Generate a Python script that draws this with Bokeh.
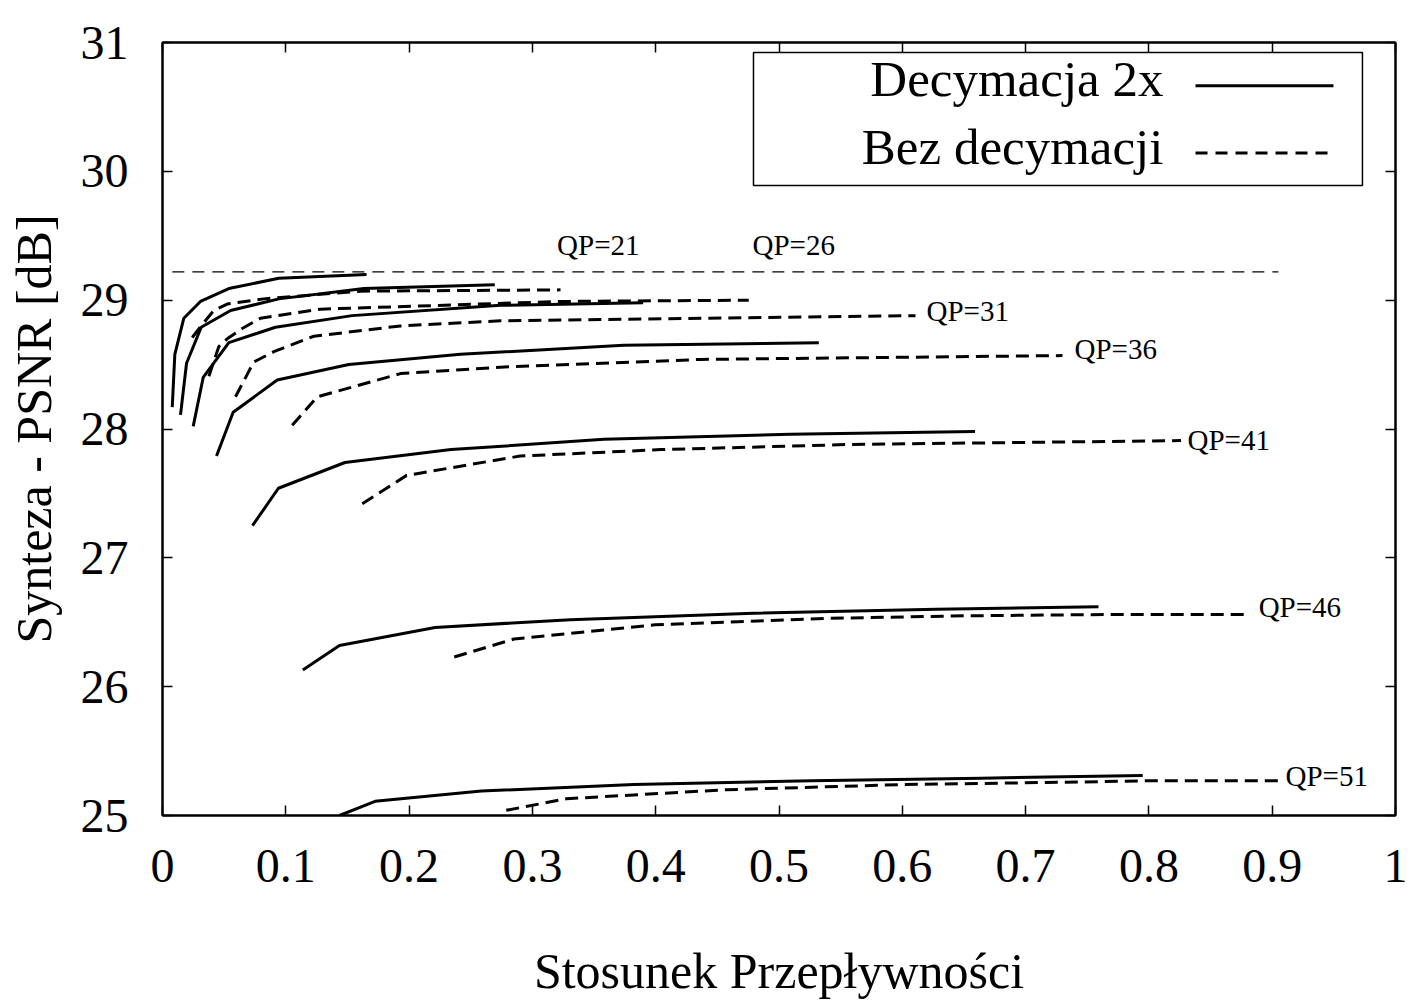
from bokeh.plotting import figure
from bokeh.models import LinearAxis, FixedTicker, Label, BoxAnnotation, CustomLabelingPolicy
from bokeh.embed import file_html
from bokeh.resources import INLINE

# ---------------- data ----------------
x_ticks = [0, 0.1, 0.2, 0.3, 0.4, 0.5, 0.6, 0.7, 0.8, 0.9, 1]
x_tick_labels = ["0", "0.1", "0.2", "0.3", "0.4", "0.5", "0.6", "0.7", "0.8", "0.9", "1"]
y_ticks = [25, 26, 27, 28, 29, 30, 31]
y_tick_labels = ["25", "26", "27", "28", "29", "30", "31"]

qp_names = ["QP=21", "QP=26", "QP=31", "QP=36", "QP=41", "QP=46", "QP=51"]

# Decymacja 2x (solid)
dec21_x = [0.0079, 0.0100, 0.0173, 0.0308, 0.0538, 0.0943, 0.1655]
dec21_y = [28.17, 28.58, 28.86, 28.99, 29.09, 29.17, 29.20]
dec26_x = [0.0146, 0.0195, 0.0314, 0.0552, 0.0943, 0.1633, 0.2695]
dec26_y = [28.11, 28.51, 28.79, 28.92, 29.01, 29.09, 29.12]
dec31_x = [0.0249, 0.0330, 0.0538, 0.0916, 0.1538, 0.2741, 0.3898]
dec31_y = [28.02, 28.40, 28.67, 28.79, 28.88, 28.96, 28.98]
dec36_x = [0.0438, 0.0573, 0.0930, 0.1511, 0.2417, 0.3741, 0.5323]
dec36_y = [27.79, 28.13, 28.38, 28.50, 28.58, 28.65, 28.67]
dec41_x = [0.073, 0.094, 0.148, 0.234, 0.358, 0.509, 0.659]
dec41_y = [27.25, 27.54, 27.74, 27.84, 27.92, 27.96, 27.98]
dec46_x = [0.1138, 0.1435, 0.2211, 0.3308, 0.4794, 0.6277, 0.7591]
dec46_y = [26.13, 26.32, 26.46, 26.52, 26.57, 26.60, 26.62]
dec51_x = [0.1436, 0.1724, 0.2586, 0.3823, 0.5261, 0.6642, 0.7950]
dec51_y = [25.00, 25.11, 25.19, 25.24, 25.27, 25.29, 25.31]

# Bez decymacji (dashed)
bez21_x = [0.0241, 0.0322, 0.0416, 0.0525, 0.0822, 0.1606, 0.3228]
bez21_y = [28.71, 28.81, 28.92, 28.97, 29.01, 29.07, 29.08]
bez26_x = [0.0376, 0.0457, 0.0525, 0.0646, 0.0795, 0.1281, 0.3228, 0.4755]
bez26_y = [28.41, 28.64, 28.70, 28.78, 28.86, 28.93, 28.99, 29.00]
bez31_x = [0.0592, 0.0740, 0.0903, 0.1227, 0.1930, 0.2741, 0.6107]
bez31_y = [28.25, 28.52, 28.60, 28.72, 28.80, 28.84, 28.88]
bez36_x = [0.1052, 0.1255, 0.1930, 0.2741, 0.4363, 0.7299]
bez36_y = [28.03, 28.25, 28.43, 28.48, 28.54, 28.57]
bez41_x = [0.162, 0.198, 0.290, 0.404, 0.558, 0.826]
bez41_y = [27.42, 27.64, 27.79, 27.84, 27.88, 27.91]
bez46_x = [0.2366, 0.2851, 0.3994, 0.5364, 0.6506, 0.7648, 0.8819]
bez46_y = [26.23, 26.37, 26.48, 26.53, 26.55, 26.56, 26.56]
bez51_x = [0.2788, 0.3277, 0.4570, 0.6008, 0.7445, 0.8021, 0.9050]
bez51_y = [25.04, 25.13, 25.20, 25.24, 25.26, 25.27, 25.27]

# thin reference line
ref_x = [0.008, 0.905]
ref_y = [29.22, 29.22]

# QP label anchor (left edge, baseline) in data coordinates
qp_label_x = [0.320, 0.4785, 0.6196, 0.7397, 0.8313, 0.889, 0.9108]
qp_label_y = [29.425, 29.425, 28.915, 28.62, 27.915, 26.62, 25.31]

dec_series = [(dec21_x, dec21_y), (dec26_x, dec26_y), (dec31_x, dec31_y), (dec36_x, dec36_y),
              (dec41_x, dec41_y), (dec46_x, dec46_y), (dec51_x, dec51_y)]
bez_series = [(bez21_x, bez21_y), (bez26_x, bez26_y), (bez31_x, bez31_y), (bez36_x, bez36_y),
              (bez41_x, bez41_y), (bez46_x, bez46_y), (bez51_x, bez51_y)]

# ---------------- style ----------------
FONT = "Liberation Serif"
DASH = "13 7"

p = figure(width=1414, height=1001, x_range=(0, 1), y_range=(25, 31),
           output_backend="svg", toolbar_location=None,
           min_border_left=162, min_border_right=19, min_border_top=42, min_border_bottom=185)
p.xgrid.visible = False
p.ygrid.visible = False
p.outline_line_color = "black"
p.outline_line_width = 2
p.outline_line_alpha = 1
p.background_fill_color = "white"
p.border_fill_color = "white"

p.xaxis.ticker = FixedTicker(ticks=x_ticks)
p.xaxis.major_label_overrides = dict(zip(x_ticks, x_tick_labels))
p.yaxis.ticker = FixedTicker(ticks=y_ticks)
p.yaxis.major_label_overrides = dict(zip(y_ticks, y_tick_labels))
p.xaxis.axis_label = "Stosunek Przepływności"
p.yaxis.axis_label = "Synteza - PSNR [dB]"

for ax in (p.xaxis[0], p.yaxis[0]):
    ax.major_label_text_font = FONT
    ax.major_label_text_font_size = "48px"
    ax.major_label_text_color = "black"
    ax.axis_label_text_font = FONT
    ax.axis_label_text_font_size = "50px"
    ax.axis_label_text_font_style = "normal"
    ax.axis_label_text_color = "black"
    ax.major_tick_in = 10
    ax.major_tick_out = 0
    ax.minor_tick_in = 0
    ax.minor_tick_out = 0
    ax.axis_line_color = "black"
    ax.axis_line_width = 2
    ax.major_tick_line_color = "black"
    ax.major_tick_line_width = 1.5
p.yaxis.major_label_standoff = 34
p.yaxis.axis_label_standoff = 16
p.xaxis.major_label_standoff = 34
p.xaxis.axis_label_standoff = 58

# mirrored ticks on top and right (no labels drawn)
top = LinearAxis(ticker=FixedTicker(ticks=x_ticks),
                 major_label_policy=CustomLabelingPolicy(code="for (const i of indices) indices.unset(i)\nreturn indices"),
                 major_tick_in=10, major_tick_out=0, minor_tick_in=0, minor_tick_out=0,
                 major_label_standoff=0, major_label_text_font_size="10px",
                 axis_line_color="black", axis_line_width=2, major_tick_line_width=1.5)
right = LinearAxis(ticker=FixedTicker(ticks=y_ticks),
                   major_label_policy=CustomLabelingPolicy(code="for (const i of indices) indices.unset(i)\nreturn indices"),
                   major_tick_in=10, major_tick_out=0, minor_tick_in=0, minor_tick_out=0,
                   major_label_standoff=0, major_label_text_font_size="10px",
                   axis_line_color="black", axis_line_width=2, major_tick_line_width=1.5)
p.add_layout(top, "above")
p.add_layout(right, "right")

# ---------------- curves ----------------
p.line(ref_x, ref_y, line_color="black", line_width=1.3, line_dash="12 8")
for xs, ys in dec_series:
    p.line(xs, ys, line_color="black", line_width=3)
for xs, ys in bez_series:
    p.line(xs, ys, line_color="black", line_width=3, line_dash=DASH)

for name, lx, ly in zip(qp_names, qp_label_x, qp_label_y):
    p.add_layout(Label(x=lx, y=ly, text=name, text_font=FONT, text_font_size="29px",
                       text_color="black", text_baseline="alphabetic", text_align="left"))

# ---------------- legend (drawn like the gnuplot key) ----------------
leg_left, leg_right, leg_top, leg_bottom = 0.4793, 0.9732, 30.922, 29.891
p.add_layout(BoxAnnotation(left=leg_left, right=leg_right, top=leg_top, bottom=leg_bottom,
                           fill_alpha=0, line_color="black", line_alpha=1, line_width=1.5))
leg_text_x = 0.8118
leg_line_x = [0.8378, 0.9497]
leg_rows = [("Decymacja 2x", 30.72, 30.665, None), ("Bez decymacji", 30.185, 30.142, "12 8")]
for text, ty, ly, dash in leg_rows:
    p.add_layout(Label(x=leg_text_x, y=ty, text=text, text_font=FONT, text_font_size="51px",
                       text_color="black", text_align="right", text_baseline="alphabetic"))
    kw = dict(line_color="black", line_width=3)
    if dash:
        kw["line_dash"] = dash
    p.line(leg_line_x, [ly, ly], **kw)

open("out.html", "w").write(file_html(p, INLINE))
